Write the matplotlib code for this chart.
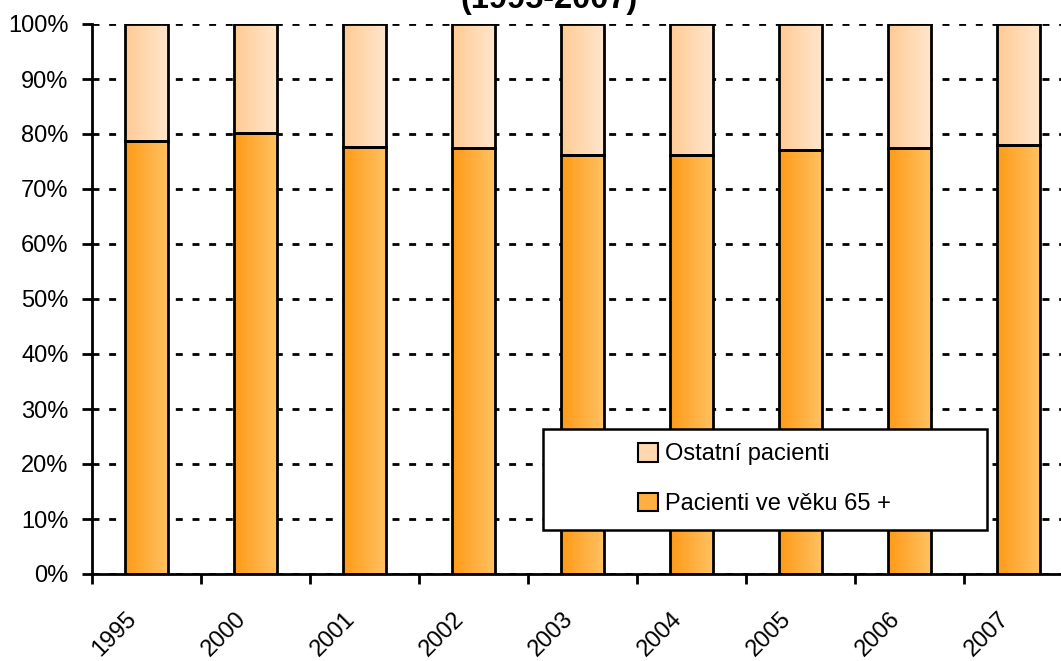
import matplotlib
matplotlib.use('Agg')
import matplotlib.pyplot as plt
import numpy as np
from matplotlib.patches import Patch, Rectangle
from matplotlib.colors import LinearSegmentedColormap
from matplotlib.transforms import ScaledTranslation

plt.rcParams['font.family'] = ['Liberation Sans', 'DejaVu Sans']

years = ['1995', '2000', '2001', '2002', '2003', '2004', '2005', '2006', '2007']
seniors = [78.8, 80.2, 77.7, 77.4, 76.2, 76.2, 77.0, 77.4, 78.0]   # Pacienti ve věku 65 +
others = [100 - v for v in seniors]                                   # Ostatní pacienti

orange_cmap = LinearSegmentedColormap.from_list('or', ['#FF9A17', '#FFC263'])
light_cmap = LinearSegmentedColormap.from_list('li', ['#FFCB94', '#FFE6CD'])

fig = plt.figure(figsize=(10.61, 6.61), dpi=100)
ax = fig.add_axes([92 / 1061, 87 / 661, 981 / 1061, 550 / 661])

x = np.arange(len(years))
b1 = ax.bar(x, seniors, width=0.4, color='#FFAE40', edgecolor='black', linewidth=2, zorder=3)
b2 = ax.bar(x, others, width=0.4, bottom=seniors, color='#FFD8B0', edgecolor='black',
            linewidth=2, zorder=3)

# horizontal gradient inside every bar
grad = np.linspace(0, 1, 64).reshape(1, -1)
for bars, cmap in [(b1, orange_cmap), (b2, light_cmap)]:
    for p in bars:
        x0, y0 = p.get_x(), p.get_y()
        im = ax.imshow(grad, cmap=cmap, aspect='auto', zorder=3.5,
                       extent=[x0, x0 + p.get_width(), y0, y0 + p.get_height()])
        im.set_clip_path(p)
        p.set_facecolor('none')
        p.set_zorder(4)

ax.set_xlim(-0.5, len(years) - 0.5)
ax.set_ylim(0, 100)

ax.set_yticks(np.arange(0, 101, 10))
ax.set_yticklabels([f'{v}%' for v in range(0, 101, 10)], fontsize=17)
ax.tick_params(axis='y', length=7, width=2, pad=10)

ax.set_xticks(np.arange(len(years) + 1) - 0.5)
ax.set_xticklabels([])
ax.tick_params(axis='x', which='major', length=7, width=2)
ax.set_xticks(x, minor=True)
ax.set_xticklabels(years, minor=True, fontsize=17, rotation=45, ha='right', va='center',
                   rotation_mode='anchor')
ax.tick_params(axis='x', which='minor', length=0, pad=30)
shift = ScaledTranslation(-13 / 100, 0, fig.dpi_scale_trans)
for lbl in ax.get_xticklabels(minor=True):
    lbl.set_transform(lbl.get_transform() + shift)

ax.yaxis.grid(True, color='black', linestyle=(0, (2.5, 3.5)), linewidth=2, zorder=1)
ax.set_axisbelow(True)
for s in ['top', 'right']:
    ax.spines[s].set_visible(False)
ax.spines['left'].set_linewidth(2)
ax.spines['bottom'].set_linewidth(2)
ax.spines['left'].set_zorder(5)
ax.spines['bottom'].set_zorder(5)

fig.text(549 / 1061, 1 - 8 / 661, '(1995-2007)', fontsize=23.5, fontweight='bold',
         ha='center', va='baseline')

# legend box
fig.patches.append(Rectangle((543 / 1061, 131 / 661), 444 / 1061, 101 / 661,
                             transform=fig.transFigure, facecolor='white',
                             edgecolor='black', linewidth=1.8, zorder=6))
handles = [Patch(facecolor='#FFD8B0', edgecolor='black', linewidth=1.5),
           Patch(facecolor='#FFAE40', edgecolor='black', linewidth=1.5)]
leg = fig.legend(handles, ['Ostatní pacienti', 'Pacienti ve věku 65 +'],
                 loc='center left', bbox_to_anchor=(638 / 1061, 1 - 479 / 661),
                 frameon=False, fontsize=17, handlelength=0.85, handleheight=0.85,
                 handletextpad=0.3, labelspacing=1.15, borderpad=0, borderaxespad=0)
leg.set_zorder(7)

fig.savefig('out.png', dpi=100)
